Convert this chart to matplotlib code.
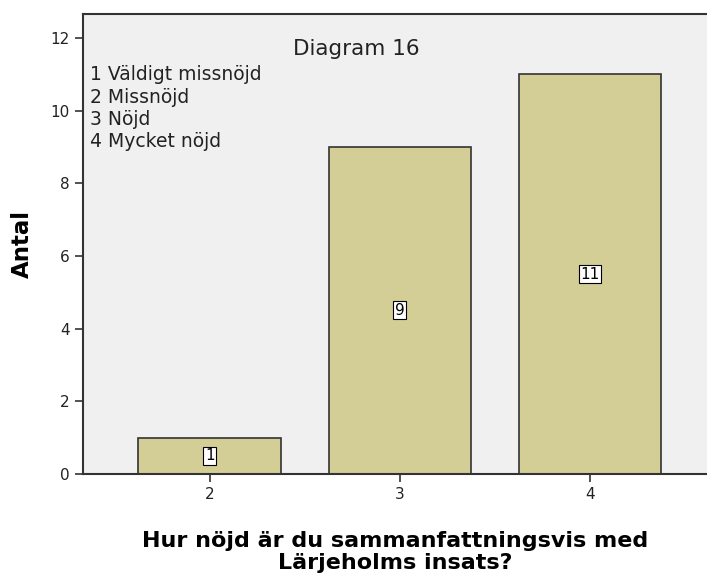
import matplotlib
matplotlib.use("Agg")
import matplotlib.pyplot as plt

categories = [2, 3, 4]
counts = [1, 9, 11]
y_ticks = [0, 2, 4, 6, 8, 10, 12]
legend_lines = ["1 Väldigt missnöjd", "2 Missnöjd", "3 Nöjd", "4 Mycket nöjd"]
title = "Diagram 16"
xlabel = "Hur nöjd är du sammanfattningsvis med\nLärjeholms insats?"
ylabel = "Antal"

plt.rcParams['font.family'] = ['DejaVu Sans']
fig = plt.figure(figsize=(7.07, 5.73), dpi=100)
ax = fig.add_axes([0.117, 0.173, 0.883, 0.803])
ax.set_facecolor('#F0F0F0')

ax.bar(categories, counts, width=0.75, color='#D3CD96', edgecolor='#333333', linewidth=1.2, zorder=2)
for c, v in zip(categories, counts):
    ax.text(c, v / 2, str(v), ha='center', va='center', fontsize=11, zorder=3,
            bbox=dict(boxstyle='square,pad=0.1', facecolor='white', edgecolor='black', linewidth=0.8))

ax.set_xlim(1.332, 4.616)
ax.set_ylim(0, 12.67)
ax.set_yticks(y_ticks)
ax.set_xticks(categories)
ax.tick_params(axis='both', direction='out', length=6, width=1.2, color='#333333', labelsize=11, labelcolor='#222222')

for s in ['left', 'top', 'bottom']:
    ax.spines[s].set_color('#333333')
    ax.spines[s].set_linewidth(1.5)
ax.spines['right'].set_visible(False)

ax.text(0.438, 0.923, title, transform=ax.transAxes, ha='center', va='center', fontsize=15.5, color='#222222')
for i, line in enumerate(legend_lines):
    ax.text(0.011, 0.867 - i * 0.0485, line, transform=ax.transAxes, ha='left', va='center', fontsize=13.5, color='#222222')

ax.set_ylabel(ylabel, fontsize=16.5, fontweight='bold', labelpad=12)
ax.set_xlabel(xlabel, fontsize=16, fontweight='bold', labelpad=21, linespacing=1.12)

fig.savefig('out.png', dpi=100, facecolor='white')
